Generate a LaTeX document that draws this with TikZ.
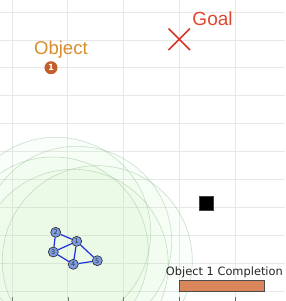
\documentclass[tikz,border=0pt]{standalone}
\usepackage{fontspec}
\setmainfont{Liberation Sans}
\newfontfamily\dejavu{DejaVu Sans}
\definecolor{gridgray}{HTML}{E8E8E8}
\definecolor{goalred}{HTML}{E0472F}
\definecolor{xred}{HTML}{D9342B}
\definecolor{objorange}{HTML}{D98C2A}
\definecolor{markorange}{HTML}{C2602B}
\definecolor{barorange}{HTML}{D9865A}
\definecolor{nodeblue}{HTML}{7D9BE0}
\definecolor{edgeblue}{HTML}{1E2EE0}
\definecolor{rangegreen}{HTML}{A0F090}
\definecolor{rangeline}{HTML}{7FB07F}
\begin{document}
\begin{tikzpicture}[x=1pt,y=-1pt,
  gridline/.style={draw=gridgray, line width=0.8pt},
  tickmark/.style={draw=black!60, line width=0.6pt},
  rangecircle/.style={fill=rangegreen, fill opacity=0.045, draw=rangeline, draw opacity=0.4, line width=0.6pt},
  robot/.style={circle, draw=black!85, fill=nodeblue, line width=0.6pt, minimum size=10pt, inner sep=0pt, font=\dejavu\fontsize{6.5}{6.5}\selectfont, text=black!80},
  link/.style={draw=edgeblue, line width=1.2pt},
  label/.style={anchor=base west, inner sep=0pt},
]
\useasboundingbox (0,0) rectangle (285,301);
\fill[white] (0,0) rectangle (285,301);
% grid
\foreach \i in {0,...,10} \draw[gridline] (0,{12+27.9*\i}) -- (285,{12+27.9*\i});
\foreach \i in {0,...,4} \draw[gridline] ({12+55.9*\i},0) -- ({12+55.9*\i},301);
\foreach \i in {0,...,4} \draw[tickmark] ({12+55.9*\i},297) -- ({12+55.9*\i},301);
% robot positions
\coordinate (c1) at (76.7,241.3);
\coordinate (c2) at (55.7,232.3);
\coordinate (c3) at (53.3,252);
\coordinate (c4) at (73.3,264.3);
\coordinate (c5) at (97.3,260.7);
% communication ranges
\foreach \c in {c1,c2,c3,c4,c5} \path[rangecircle] (\c) circle [radius=95pt];
% goal
\draw[xred, line width=1.5pt] (168.5,28.5) -- (190,50) (168.5,50) -- (190,28.5);
\node[label, text=goalred, font=\fontsize{19}{19}\selectfont] (goal) at (192.3,25) {Goal};
% object
\node[label, text=objorange, font=\fontsize{18.5}{18.5}\selectfont] (objlabel) at (34,54) {Object};
\node[circle, fill=markorange, minimum size=13pt, inner sep=0pt, text=white, font=\dejavu\bfseries\fontsize{8.5}{8.5}\selectfont] (obj) at (51,67.7) {1};
% obstacle
\node[draw=black!75, fill=black, minimum size=14pt, inner sep=0pt, line width=0.6pt] (obstacle) at (206.2,202.8) {};
% completion bar
\node[anchor=base, inner sep=0pt, text=black!85, font=\dejavu\fontsize{11.4}{11.4}\selectfont] (comp) at (224.4,275.7) {Object 1 Completion};
\draw[fill=barorange, draw=black!70, line width=0.6pt] (179,280) rectangle (264,291.7);
% robots
\node[robot] (r1) at (c1) {1};
\node[robot] (r2) at (c2) {2};
\node[robot] (r3) at (c3) {3};
\node[robot] (r4) at (c4) {4};
\node[robot] (r5) at (c5) {5};
\draw[link] (r2) -- (r1);
\draw[link] (r2) -- (r3);
\draw[link] (r3) -- (r1);
\draw[link] (r1) -- (r4);
\draw[link] (r3) -- (r4);
\draw[link] (r4) -- (r5);
\draw[link] (r1) -- (r5);
\end{tikzpicture}
\end{document}
